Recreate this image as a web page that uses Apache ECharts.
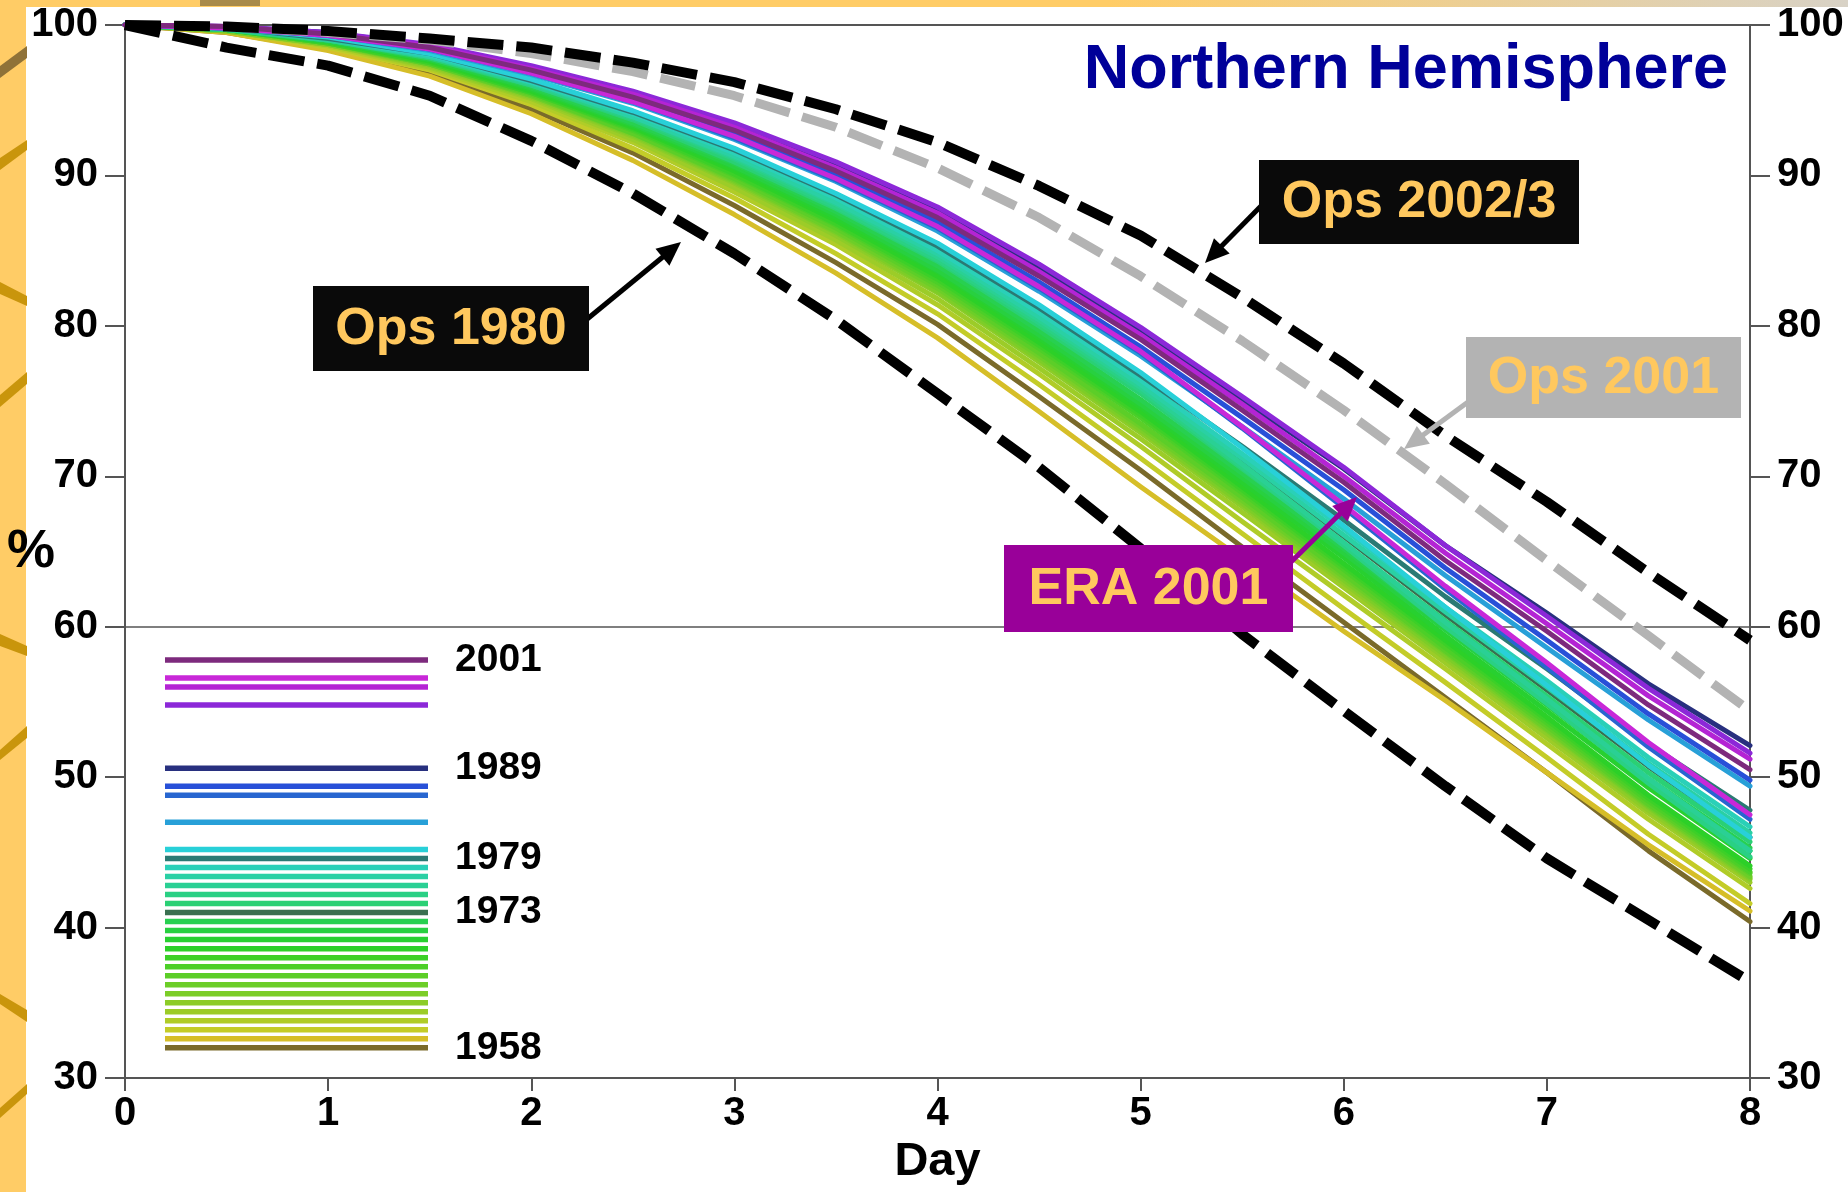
<!DOCTYPE html>
<html>
<head>
<meta charset="utf-8">
<script src="https://cdn.jsdelivr.net/npm/echarts@6/dist/echarts.min.js"></script>
<style>
html,body{margin:0;padding:0;background:#FFCC66;}
#c{width:1848px;height:1192px;}
</style>
</head>
<body>
<div id="c"></div>
<script>
// ---------------- DATA ----------------
const days = [0, 0.5, 1, 1.5, 2, 2.5, 3, 3.5, 4, 4.5, 5, 5.5, 6, 6.5, 7, 7.5, 8];
const xTicks = [0, 1, 2, 3, 4, 5, 6, 7, 8];
const yTicks = [30, 40, 50, 60, 70, 80, 90, 100];

// ERA reanalysis years (legend order, top to bottom)
const years = [2001, 1999, 1998, 1996, 1989, 1987, 1986, 1983, 1980, 1979, 1978, 1977, 1976, 1975,
  1974, 1973, 1972, 1971, 1970, 1969, 1968, 1967, 1966, 1965, 1964, 1963, 1962, 1961, 1960, 1959, 1958];
const yearColors = ['#7d2a7d', '#c828d8', '#b424d4', '#8c28d8', '#28307f', '#2850d8', '#2866d0', '#28a0d8',
  '#28d0d8', '#2a7a74', '#2ad0b8', '#2ad0a4', '#2ad094', '#2ad084', '#2ad074', '#3a7050', '#28d050',
  '#28d040', '#28d030', '#2cd028', '#3cd028', '#4ccf28', '#5cce28', '#6cce28', '#7ccd28', '#8ccc28',
  '#9ccc28', '#b0cc28', '#c4cc28', '#d6be28', '#7a6a2a'];
const labelledYears = [2001, 1989, 1979, 1973, 1958];

const y2001 = [100,99.9,99.4,98.5,97.0,95.2,93.0,90.3,87.2,83.3,79.1,74.4,69.6,64.4,59.7,54.8,50.5];
const y1999 = [100,99.8,99.3,98.4,96.8,94.9,92.6,89.8,86.6,82.6,78.3,73.3,68.1,62.7,57.6,52.3,47.5];
const y1998 = [100,99.9,99.4,98.6,97.1,95.4,93.2,90.5,87.5,83.6,79.4,74.8,70.0,64.9,60.2,55.4,51.2];
const y1996 = [100,99.9,99.5,98.7,97.3,95.6,93.5,90.9,87.9,84.1,79.9,75.3,70.6,65.4,60.7,55.9,51.6];
const y1989 = [100,99.9,99.5,98.6,97.2,95.5,93.3,90.7,87.6,83.8,79.6,75.1,70.5,65.4,60.9,56.2,52.1];
const y1987 = [100,99.8,99.4,98.4,96.9,95.0,92.8,90.0,86.9,82.9,78.6,73.9,69.1,63.9,59.1,54.2,49.8];
const y1986 = [100,99.8,99.3,98.4,96.8,94.9,92.5,89.7,86.5,82.5,78.2,73.2,67.9,62.5,57.3,52.0,47.2];
const y1983 = [100,99.8,99.3,98.3,96.7,94.8,92.4,89.6,86.3,82.3,78.0,73.3,68.5,63.4,58.6,53.8,49.4];
const y1980 = [100,99.8,99.2,98.1,96.4,94.3,91.8,88.8,85.5,81.4,76.9,71.9,66.7,61.3,56.1,50.8,46.0];
const y1979 = [100,99.8,99.1,98.1,96.3,94.2,91.7,88.7,85.3,81.2,76.7,72.0,67.1,62.0,57.2,52.2,47.8];
const y1978 = [100,99.8,99.1,98.0,96.2,94.1,91.5,88.5,85.0,80.9,76.4,71.5,66.5,61.3,56.4,51.3,46.7];
const y1977 = [100,99.8,99.1,97.9,96.2,93.9,91.3,88.2,84.8,80.6,76.1,71.2,66.1,61.0,56.0,50.9,46.3];
const y1976 = [100,99.8,99.0,97.9,96.1,93.9,91.2,88.1,84.6,80.4,75.9,70.8,65.6,60.3,55.2,49.9,45.1];
const y1975 = [100,99.7,99.0,97.9,96.0,93.8,91.1,87.9,84.4,80.2,75.7,70.6,65.4,60.0,54.9,49.6,44.7];
const y1974 = [100,99.7,99.0,97.8,96.0,93.7,90.9,87.8,84.3,80.0,75.5,70.5,65.5,60.4,55.4,50.3,45.7];
const y1973 = [100,99.8,99.1,97.9,96.1,93.9,91.2,88.2,84.7,80.5,76.0,71.1,66.0,60.8,55.8,50.7,46.0];
const y1972 = [100,99.7,99.0,97.8,95.9,93.5,90.8,87.6,84.0,79.7,75.1,70.2,65.2,60.0,55.0,49.9,45.3];
const y1971 = [100,99.7,98.9,97.7,95.8,93.4,90.6,87.4,83.7,79.4,74.8,69.9,64.9,59.8,54.8,49.7,45.1];
const y1970 = [100,99.7,98.9,97.7,95.7,93.3,90.5,87.2,83.6,79.2,74.6,69.6,64.6,59.4,54.4,49.3,44.6];
const y1969 = [100,99.7,98.9,97.6,95.6,93.2,90.3,87.0,83.3,78.9,74.3,69.3,64.2,59.1,54.0,48.8,44.1];
const y1968 = [100,99.7,98.8,97.5,95.5,93.1,90.1,86.8,83.1,78.7,74.1,69.1,64.0,58.9,53.8,48.6,43.9];
const y1967 = [100,99.7,98.8,97.5,95.5,93.0,90.0,86.7,82.9,78.5,73.9,68.9,63.8,58.6,53.6,48.4,43.7];
const y1966 = [100,99.7,98.8,97.4,95.4,92.8,89.8,86.5,82.7,78.2,73.5,68.6,63.5,58.4,53.4,48.2,43.6];
const y1965 = [100,99.7,98.8,97.4,95.3,92.8,89.7,86.3,82.5,78.0,73.3,68.4,63.3,58.3,53.2,48.1,43.4];
const y1964 = [100,99.6,98.7,97.4,95.3,92.7,89.6,86.2,82.3,77.8,73.1,68.2,63.1,58.1,53.1,48.0,43.3];
const y1963 = [100,99.6,98.7,97.3,95.2,92.6,89.5,86.0,82.2,77.6,72.9,68.0,62.9,57.9,52.9,47.8,43.2];
const y1962 = [100,99.6,98.7,97.2,95.1,92.4,89.2,85.7,81.8,77.2,72.5,67.6,62.6,57.6,52.6,47.6,43.0];
const y1961 = [100,99.6,98.6,97.1,94.9,92.2,88.9,85.4,81.4,76.8,72.0,67.0,62.1,57.2,52.2,47.2,42.6];
const y1960 = [100,99.6,98.5,97.0,94.7,91.8,88.5,84.8,80.8,76.1,71.2,66.2,61.2,56.3,51.3,46.2,41.6];
const y1959 = [100,99.5,98.3,96.6,94.1,91.0,87.4,83.5,79.2,74.3,69.3,64.5,59.7,55.1,50.3,45.5,41.1];
const y1958 = [100,99.5,98.4,96.8,94.4,91.5,88.0,84.2,80.1,75.3,70.4,65.3,60.3,55.3,50.3,45.1,40.4];

const yearValues = [y2001, y1999, y1998, y1996, y1989, y1987, y1986, y1983, y1980, y1979, y1978, y1977,
  y1976, y1975, y1974, y1973, y1972, y1971, y1970, y1969, y1968, y1967, y1966, y1965, y1964, y1963,
  y1962, y1961, y1960, y1959, y1958];

// Operational forecasts (dashed)
const ops2002_3 = [100,99.9,99.6,99.1,98.5,97.5,96.2,94.4,92.2,89.3,86.0,81.9,77.5,72.7,68.3,63.6,59.1];
const ops2001   = [100,99.9,99.5,99.0,98.1,96.9,95.3,93.2,90.5,87.2,83.3,79.0,74.4,69.5,64.4,59.4,54.4];
const ops1980   = [100,98.5,97.3,95.3,92.3,88.8,84.8,80.4,75.5,70.6,65.2,59.5,54.4,49.4,44.6,40.5,36.4];

const titleText = 'Northern Hemisphere';
const xName = 'Day';
const yName = '%';
const annotations = [
  {text: 'Ops 2002/3', box: [1259, 160, 320, 84], fill: '#0a0a0a', from: [1262, 205], to: [1205, 263], arrow: '#000000'},
  {text: 'Ops 1980',   box: [313, 286, 276, 85],  fill: '#0a0a0a', from: [586, 320],  to: [681, 242], arrow: '#000000'},
  {text: 'Ops 2001',   box: [1466, 337, 275, 81], fill: '#b3b3b3', from: [1468, 402], to: [1404, 449], arrow: '#b3b3b3'},
  {text: 'ERA 2001',   box: [1004, 545, 289, 87], fill: '#990099', from: [1291, 562], to: [1357, 497], arrow: '#990099'}
];

// ---------------- CHART ----------------
const FONT = "'Liberation Sans', Arial, Helvetica, sans-serif";
const AXIS_COLOR = '#555555';
const chart = echarts.init(document.getElementById('c'), null, {renderer: 'canvas', width: 1848, height: 1192});

// colored ERA lines: oldest drawn first
const series = [];
for (let i = years.length - 1; i >= 0; i--) {
  const s = {
    type: 'line', name: String(years[i]),
    data: days.map((d, j) => [d, yearValues[i][j]]),
    symbol: 'none', showSymbol: false, silent: true, z: 3,
    lineStyle: {width: 5, color: yearColors[i], cap: 'round', join: 'round'},
    itemStyle: {color: yearColors[i]}
  };
  if (i === years.length - 1) {
    s.markLine = {
      silent: true, symbol: 'none', label: {show: false}, z: 1,
      lineStyle: {color: AXIS_COLOR, width: 1.5, type: 'solid'},
      data: [{yAxis: 60}]
    };
  }
  series.push(s);
}
function dashed(name, vals, color, width) {
  return {
    type: 'line', name: name, data: days.map((d, j) => [d, vals[j]]),
    symbol: 'none', showSymbol: false, silent: true, z: 4,
    lineStyle: {width: width, color: color, type: [36, 13], cap: 'butt'},
    itemStyle: {color: color}
  };
}
series.push(dashed('Ops 2001', ops2001, '#b3b3b3', 9));
series.push(dashed('Ops 2002/3', ops2002_3, '#000000', 10));
series.push(dashed('Ops 1980', ops1980, '#000000', 10));

// legend: one vertical legend per run of consecutive years (keeps year gaps)
const legendTop = 660, legendPitch = 9.02, legendBarH = 5.5, legendLeft = 165;
const runs = [];
years.forEach(y => {
  const last = runs[runs.length - 1];
  if (last && last[last.length - 1] - 1 === y) last.push(y); else runs.push([y]);
});
const legends = runs.map(run => ({
  orient: 'vertical', left: legendLeft,
  top: legendTop + (years[0] - run[0]) * legendPitch - legendBarH / 2,
  itemWidth: 263, itemHeight: legendBarH, itemGap: legendPitch - legendBarH, padding: 0,
  icon: 'rect', selectedMode: false, formatter: () => '',
  textStyle: {fontSize: 1},
  data: run.map(String)
}));

// graphic: page frame, decorations, labels, annotations
const graphics = [];
graphics.push({type: 'rect', shape: {x: 26, y: 7, width: 1822, height: 1185}, style: {fill: '#ffffff'}, z: -10, silent: true});
graphics.push({type: 'rect', shape: {x: 0, y: 0, width: 1848, height: 7}, z: -10, silent: true,
  style: {fill: new echarts.graphic.LinearGradient(0, 0, 1, 0, [{offset: 0, color: '#FFCC66'}, {offset: 0.6, color: '#FFCC66'}, {offset: 1, color: '#d8d2c6'}])}});
graphics.push({type: 'rect', shape: {x: 200, y: 0, width: 60, height: 6}, style: {fill: '#a88a4a'}, z: -9, silent: true});
const branches = [
  [[0,66],[0,78],[27,58],[27,46]],
  [[0,158],[0,170],[27,150],[27,140]],
  [[0,282],[0,294],[27,306],[27,296]],
  [[0,395],[0,407],[27,384],[27,372]],
  [[0,634],[0,646],[27,656],[27,646]],
  [[0,750],[0,760],[27,738],[27,726]],
  [[0,994],[0,1004],[27,1022],[27,1010]],
  [[0,1108],[0,1118],[27,1094],[27,1084]]
];
branches.forEach((p, i) => graphics.push({type: 'polygon', shape: {points: p}, style: {fill: i === 0 ? '#8f7238' : '#C9950C'}, z: -9, silent: true}));

labelledYears.forEach(y => graphics.push({
  type: 'text', x: 455, y: legendTop + (years[0] - y) * legendPitch, z: 50, silent: true,
  style: {text: String(y), fill: '#000', font: 'bold 39px ' + FONT, textAlign: 'left', textVerticalAlign: 'middle', verticalAlign: 'middle'}
}));
graphics.push({type: 'text', x: 31, y: 552, z: 50, silent: true,
  style: {text: yName, fill: '#000', font: 'bold 54px ' + FONT, textAlign: 'center', textVerticalAlign: 'middle', verticalAlign: 'middle'}});

annotations.forEach(a => {
  const [bx, by, bw, bh] = a.box;
  const [x1, y1] = a.from, [x2, y2] = a.to;
  const len = Math.hypot(x2 - x1, y2 - y1), ux = (x2 - x1) / len, uy = (y2 - y1) / len;
  const hl = 24, hw = 22;
  const baseX = x2 - ux * hl, baseY = y2 - uy * hl;
  graphics.push({type: 'line', z: 60, silent: true, shape: {x1: x1, y1: y1, x2: baseX + ux * 2, y2: baseY + uy * 2},
    style: {stroke: a.arrow, lineWidth: 5}});
  graphics.push({type: 'polygon', z: 60, silent: true,
    shape: {points: [[x2, y2], [baseX - uy * hw / 2, baseY + ux * hw / 2], [baseX + uy * hw / 2, baseY - ux * hw / 2]]},
    style: {fill: a.arrow}});
  graphics.push({type: 'rect', z: 61, silent: true, shape: {x: bx, y: by, width: bw, height: bh}, style: {fill: a.fill}});
  graphics.push({type: 'text', z: 62, silent: true, x: bx + bw / 2, y: by + bh / 2 + 1,
    style: {text: a.text, fill: '#FFC85E', font: 'bold 52px ' + FONT, textAlign: 'center', textVerticalAlign: 'middle', verticalAlign: 'middle'}});
});

const yAxisBase = {
  type: 'value', min: yTicks[0], max: yTicks[yTicks.length - 1], interval: 10,
  axisLine: {show: true, lineStyle: {color: AXIS_COLOR, width: 2}},
  axisTick: {show: true, inside: false, length: 20, lineStyle: {color: AXIS_COLOR, width: 2}},
  axisLabel: {show: true, margin: 27, color: '#000', fontSize: 40, fontWeight: 'bold', fontFamily: FONT,
    formatter: v => yTicks.indexOf(v) >= 0 ? String(v) : ''},
  splitLine: {show: false}
};

chart.setOption({
  animation: false,
  backgroundColor: '#FFCC66',
  textStyle: {fontFamily: FONT},
  title: {text: titleText, right: 120, top: 39, padding: 0,
    textStyle: {fontSize: 63, fontWeight: 'bold', color: '#000099', fontFamily: FONT}},
  grid: {left: 125, right: 98, top: 25, bottom: 114, show: true, borderColor: AXIS_COLOR, borderWidth: 2,
    backgroundColor: 'transparent', containLabel: false, outerBoundsMode: 'none'},
  legend: legends,
  xAxis: {
    type: 'value', min: xTicks[0], max: xTicks[xTicks.length - 1], interval: 1,
    name: xName, nameLocation: 'middle', nameGap: 58,
    nameTextStyle: {fontSize: 47, fontWeight: 'bold', color: '#000', fontFamily: FONT},
    axisLine: {show: true, lineStyle: {color: AXIS_COLOR, width: 2}},
    axisTick: {show: true, inside: false, length: 13, lineStyle: {color: AXIS_COLOR, width: 2}},
    axisLabel: {margin: 16, color: '#000', fontSize: 40, fontWeight: 'bold', fontFamily: FONT},
    splitLine: {show: false}
  },
  yAxis: [
    Object.assign({}, yAxisBase, {position: 'left'}),
    Object.assign({}, yAxisBase, {position: 'right'})
  ],
  graphic: {elements: graphics},
  series: series
});
</script>
</body>
</html>
